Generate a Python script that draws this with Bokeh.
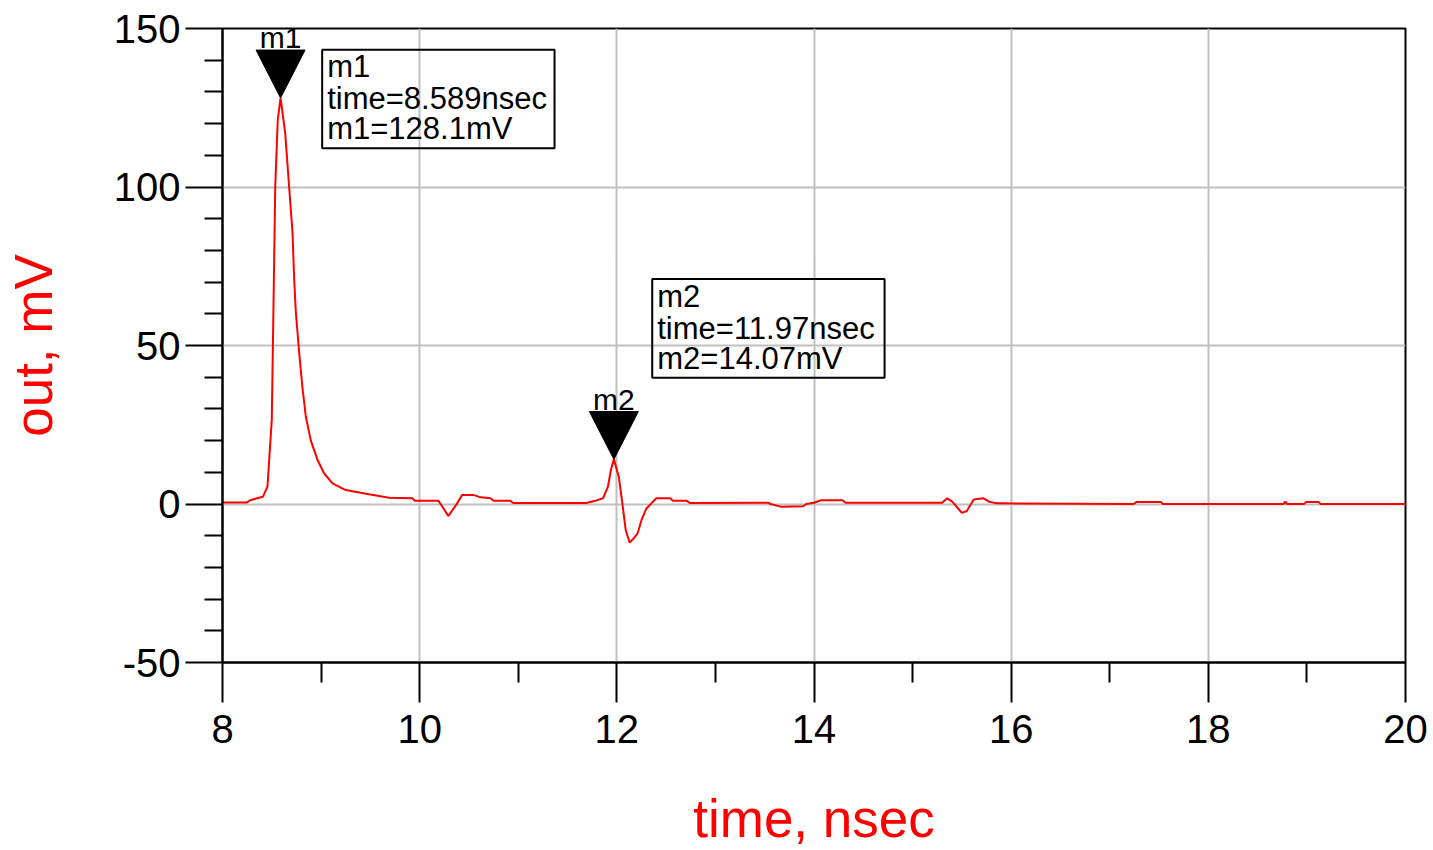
from bokeh.plotting import figure
from bokeh.models import Range1d, FixedTicker, BoxAnnotation, CustomJSTickFormatter
from bokeh.core.properties import value
from bokeh.embed import file_html
from bokeh.resources import INLINE

# ---- data ----
time_ns = [8.0, 8.25, 8.28, 8.41, 8.456, 8.50, 8.515, 8.535, 8.56, 8.589,
           8.636, 8.676, 8.71, 8.727, 8.744, 8.778, 8.81, 8.845, 8.896, 8.964,
           9.03, 9.116, 9.25, 9.455, 9.69, 9.93, 9.95, 10.19, 10.23, 10.29,
           10.37, 10.43, 10.55, 10.62, 10.72, 10.75, 10.92, 10.95, 11.69, 11.78,
           11.86, 11.91, 11.94, 11.97, 12.02, 12.06, 12.09, 12.13, 12.17, 12.21,
           12.25, 12.30, 12.40, 12.54, 12.57, 12.71, 12.74, 13.53, 13.56, 13.67,
           13.89, 13.92, 14.0, 14.07, 14.29, 14.32, 15.30, 15.35, 15.40, 15.50,
           15.55, 15.62, 15.72, 15.77, 15.85, 17.24, 17.27, 17.52, 17.54, 18.76,
           18.78, 18.80, 18.97, 18.99, 19.12, 19.14, 20.0]
out_mv = [0.5, 0.5, 1.2, 2.3, 5.5, 26.6, 58.0, 100.0, 121.0, 128.1,
          117.0, 100.0, 85.7, 71.0, 60.4, 47.7, 37.0, 27.6, 20.0, 13.9,
          9.7, 6.5, 4.4, 3.2, 2.0, 1.8, 1.0, 1.0, -0.8, -3.8,
          -0.3, 2.8, 2.8, 2.1, 1.8, 1.0, 1.0, 0.3, 0.3, 1.0,
          1.8, 5.5, 10.8, 14.07, 8.6, -0.8, -8.2, -12.2, -10.9, -9.3,
          -5.1, -1.4, 1.8, 1.8, 1.0, 1.0, 0.3, 0.4, 0.0, -0.9,
          -0.7, 0.0, 0.4, 1.2, 1.2, 0.4, 0.4, 1.8, 0.8, -2.8,
          -2.2, 1.4, 1.8, 0.8, 0.2, 0.0, 0.6, 0.6, 0.0, 0.0,
          0.7, 0.0, 0.0, 0.6, 0.6, 0.0, 0.0]

marker_names = ["m1", "m2"]
marker_time = [8.589, 11.97]
marker_value = [128.1, 14.07]
marker_time_text = ["time=8.589nsec", "time=11.97nsec"]
marker_value_text = ["m1=128.1mV", "m2=14.07mV"]

x_major = [8, 10, 12, 14, 16, 18, 20]
x_minor = [9, 11, 13, 15, 17, 19]
y_major = [-50, 0, 50, 100, 150]
y_minor = [-40, -30, -20, -10, 10, 20, 30, 40, 60, 70, 80, 90, 110, 120, 130, 140]

FONT = "Liberation Sans"

p = figure(width=1433, height=850, x_range=Range1d(8, 20), y_range=Range1d(-50, 150),
           output_backend="svg", toolbar_location=None,
           min_border_left=222, min_border_right=28, min_border_top=28, min_border_bottom=188)
p.background_fill_color = "white"
p.border_fill_color = "white"
p.outline_line_color = "black"
p.outline_line_width = 2
p.outline_line_alpha = 1.0

p.xaxis.ticker = FixedTicker(ticks=x_major, minor_ticks=x_minor)
p.yaxis.ticker = FixedTicker(ticks=y_major, minor_ticks=y_minor)
p.xaxis.formatter = CustomJSTickFormatter(code="return String(tick);")
p.yaxis.formatter = CustomJSTickFormatter(code="return String(tick);")
p.xgrid.ticker = FixedTicker(ticks=x_major)
p.ygrid.ticker = FixedTicker(ticks=y_major)
for g in (p.xgrid, p.ygrid):
    g.grid_line_color = "#c0c0c0"
    g.grid_line_width = 2

for ax in (p.xaxis, p.yaxis):
    ax.axis_line_color = "black"
    ax.axis_line_width = 2
    ax.major_tick_in = 0
    ax.minor_tick_in = 0
    ax.major_tick_line_width = 2
    ax.minor_tick_line_width = 2
    ax.major_tick_line_color = "black"
    ax.minor_tick_line_color = "black"
    ax.major_label_text_font = FONT
    ax.major_label_text_font_size = "40px"
    ax.major_label_text_color = "black"
    ax.axis_label_text_font = FONT
    ax.axis_label_text_font_size = "53px"
    ax.axis_label_text_font_style = "normal"
    ax.axis_label_text_color = "#ff0000"

p.xaxis.major_tick_out = 40
p.xaxis.minor_tick_out = 20
p.yaxis.major_tick_out = 37
p.yaxis.minor_tick_out = 18
p.xaxis.major_label_standoff = 12
p.yaxis.major_label_standoff = 5
p.xaxis.axis_label = "time, nsec"
p.yaxis.axis_label = "out, mV"
p.xaxis.axis_label_text_line_height = 0.6
p.xaxis.axis_label_standoff = 43
p.yaxis.axis_label_standoff = 48

# trace
p.line(time_ns, out_mv, line_color="#ff0000", line_width=2)

# marker triangles (tip on the data point)
half_w = 0.2485   # nsec
tri_h = 15.1      # mV
xs = [[t - half_w, t + half_w, t] for t in marker_time]
ys = [[v + tri_h, v + tri_h, v] for v in marker_value]
p.patches(xs, ys, fill_color="black", line_color="black")
p.text(x=marker_time, y=[v + 19.0 for v in marker_value], text=marker_names,
       text_font=value(FONT), text_font_size="30px", text_align="center",
       text_baseline="middle", text_color="black")

# readout boxes
boxes = [(9.011, 11.368, 143.3, 112.2), (12.359, 14.716, 71.0, 39.8)]
text_pos = [(9.062, [138.0, 128.0, 118.5]), (12.41, [65.4, 55.5, 46.0])]
for i, (l, r, t, b) in enumerate(boxes):
    p.add_layout(BoxAnnotation(left=l, right=r, top=t, bottom=b, fill_alpha=0,
                               line_color="black", line_width=2, line_alpha=1))
    tx, tys = text_pos[i]
    p.text(x=[tx] * 3, y=tys,
           text=[marker_names[i], marker_time_text[i], marker_value_text[i]],
           text_font=value(FONT), text_font_size="31px", text_align="left",
           text_baseline="middle", text_color="black")

open("out.html", "w").write(file_html(p, INLINE))
